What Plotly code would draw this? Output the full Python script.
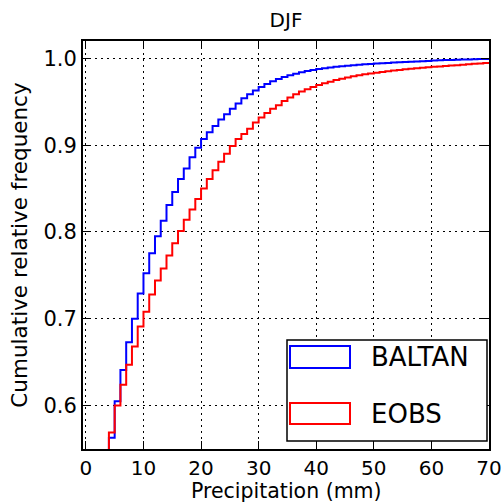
import plotly.graph_objects as go

# ---- data ----
bin_edges = list(range(4, 71))  # 1 mm bins, 4..70 mm

baltan_cum = [
    0.563, 0.605, 0.641, 0.673, 0.700, 0.729, 0.7525, 0.7755, 0.795, 0.813,
    0.831, 0.846, 0.861, 0.873, 0.886, 0.897, 0.907, 0.915, 0.922, 0.9295,
    0.9356, 0.942, 0.948, 0.954, 0.9586, 0.963, 0.967, 0.9706, 0.9737, 0.9763,
    0.9786, 0.9806, 0.9824, 0.984, 0.9854, 0.9866, 0.9877, 0.9887, 0.9895, 0.9902,
    0.9908, 0.9914, 0.992, 0.9926, 0.9931, 0.9936, 0.994, 0.9944, 0.9948, 0.9952,
    0.9955, 0.9958, 0.9962, 0.9965, 0.9968, 0.9971, 0.9974, 0.9977, 0.998, 0.9982,
    0.9984, 0.9986, 0.9988, 0.999, 0.9992, 0.9994,
]

eobs_cum = [
    0.569, 0.600, 0.624, 0.647, 0.668, 0.691, 0.708, 0.728, 0.744, 0.758,
    0.773, 0.787, 0.801, 0.814, 0.826, 0.838, 0.850, 0.861, 0.871, 0.881,
    0.890, 0.899, 0.907, 0.913, 0.919, 0.926, 0.932, 0.937, 0.942, 0.946,
    0.951, 0.955, 0.9586, 0.9617, 0.9645, 0.967, 0.9693, 0.9713, 0.9732, 0.975,
    0.9766, 0.978, 0.9793, 0.9805, 0.9816, 0.9826, 0.9835, 0.9844, 0.9852, 0.986,
    0.9867, 0.9874, 0.988, 0.9886, 0.9892, 0.9897, 0.9902, 0.9907, 0.9912, 0.9917,
    0.9922, 0.9927, 0.9932, 0.9937, 0.9942, 0.9947,
]

series_names = ["BALTAN", "EOBS"]
series_colors = ["#0000ff", "#ff0000"]
x_ticks = [0, 10, 20, 30, 40, 50, 60, 70]
y_ticks = [0.6, 0.7, 0.8, 0.9, 1.0]
x_title = "Precipitation (mm)"
y_title = "Cumulative relative frequency"

FONT = "DejaVu Sans"


def step_xy(edges, cum):
    # cumulative step histogram outline: rise at first edge, then one step per bin
    xs = [edges[0]] + list(edges)
    ys = [0.0] + list(cum) + [cum[-1]]
    return xs, ys


fig = go.Figure()
for name, cum, col in zip(series_names, [baltan_cum, eobs_cum], series_colors):
    xs, ys = step_xy(bin_edges, cum)
    fig.add_trace(go.Scatter(
        x=xs, y=ys, mode="lines", name=name,
        line=dict(color=col, width=2, shape="hv"),
        showlegend=False, hoverinfo="skip",
    ))

axis_common = dict(
    ticks="inside", ticklen=8, tickwidth=1.2, tickcolor="black",
    mirror="allticks", showline=True, linecolor="black", linewidth=2,
    showgrid=True, gridcolor="black", gridwidth=1, griddash="2px,4px",
    zeroline=False, automargin=False,
)

fig.update_xaxes(range=[-0.5, 70], tickvals=x_ticks,
                 tickfont=dict(family=FONT, size=20, color="black"), **axis_common)
fig.update_yaxes(
    range=[0.55, 1.02], tickvals=y_ticks, tickformat=".1f",
    tickfont=dict(family=FONT, size=21, color="black"),
    title=dict(text=y_title, font=dict(family=FONT, size=21.5, color="black"), standoff=10),
    **axis_common,
)


def px_x(p):
    return (p - 83) / 406.0


def px_y(p):
    return (449 - p) / 408.0


annotations = [dict(xref="paper", yref="paper", x=0.5, y=px_y(491), text=x_title,
                    showarrow=False, xanchor="center", yanchor="middle",
                    font=dict(family=FONT, size=20.5, color="black"))]

# legend drawn in matplotlib style (outlined patches)
shapes = [dict(type="rect", xref="paper", yref="paper",
               x0=px_x(287), x1=px_x(487), y0=px_y(441), y1=px_y(340),
               line=dict(color="black", width=1.5), fillcolor="white", layer="above")]
legend_rows = [(346, 368), (403, 424)]
for (top, bot), name, col in zip(legend_rows, series_names, series_colors):
    shapes.append(dict(type="rect", xref="paper", yref="paper",
                       x0=px_x(290), x1=px_x(350), y0=px_y(bot), y1=px_y(top),
                       line=dict(color=col, width=2), fillcolor="rgba(0,0,0,0)", layer="above"))
    annotations.append(dict(xref="paper", yref="paper", x=px_x(369), y=px_y((top + bot) / 2),
                            text=name, showarrow=False, xanchor="left", yanchor="middle",
                            font=dict(family=FONT, size=26, color="black")))

fig.update_layout(
    width=503, height=503,
    margin=dict(l=83, r=14, t=41, b=54),
    paper_bgcolor="white", plot_bgcolor="white",
    title=dict(text="DJF", x=0.5, xref="paper", xanchor="center",
               y=1 - 20 / 503, yref="container", yanchor="middle",
               font=dict(family=FONT, size=20, color="black")),
    shapes=shapes, annotations=annotations,
    font=dict(family=FONT, color="black"),
    showlegend=False,
)

fig.write_html("out.html", config={"displayModeBar": False},
               post_script="document.body.style.margin='0';")
